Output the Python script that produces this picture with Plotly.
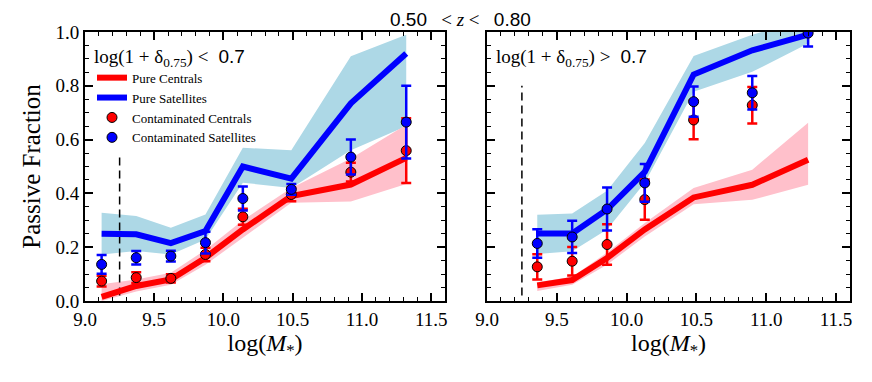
import plotly.graph_objects as go

# ---------------- data ----------------
mass_lo = [9.12, 9.37, 9.62, 9.87, 10.14, 10.49, 10.92, 11.32]
pure_cen_lo = [0.015, 0.056, 0.08, 0.161, 0.266, 0.39, 0.433, 0.532]
pure_cen_lo_hi = [0.062, 0.08, 0.105, 0.19, 0.30, 0.42, 0.53, 0.655]
pure_cen_lo_lo = [0.0, 0.035, 0.06, 0.135, 0.235, 0.365, 0.37, 0.435]
pure_sat_lo = [0.25, 0.248, 0.215, 0.26, 0.50, 0.455, 0.735, 0.92]
pure_sat_lo_hi = [0.328, 0.316, 0.272, 0.322, 0.57, 0.56, 0.91, 0.99]
pure_sat_lo_lo = [0.173, 0.186, 0.173, 0.229, 0.44, 0.42, 0.56, 0.65]
cont_cen_lo = [0.074, 0.087, 0.084, 0.173, 0.313, 0.396, 0.479, 0.559]
cont_cen_lo_err = [0.02, 0.02, 0.015, 0.025, 0.03, 0.025, 0.035, 0.12]
cont_sat_lo = [0.136, 0.161, 0.167, 0.217, 0.381, 0.415, 0.535, 0.665]
cont_sat_lo_err = [0.035, 0.025, 0.02, 0.04, 0.045, 0.02, 0.065, 0.135]

mass_hi = [9.36, 9.61, 9.86, 10.13, 10.48, 10.90, 11.30]
pure_cen_hi = [0.058, 0.078, 0.16, 0.266, 0.385, 0.432, 0.525]
pure_cen_hi_hi = [0.07, 0.09, 0.18, 0.29, 0.42, 0.488, 0.663]
pure_cen_hi_lo = [0.037, 0.06, 0.135, 0.24, 0.36, 0.376, 0.432]
pure_sat_hi = [0.251, 0.251, 0.34, 0.48, 0.842, 0.932, 0.99]
pure_sat_hi_hi = [0.321, 0.325, 0.41, 0.587, 0.911, 0.99, 1.05]
pure_sat_hi_lo = [0.175, 0.185, 0.266, 0.44, 0.778, 0.852, 0.957]
cont_cen_hi = [0.127, 0.148, 0.21, 0.377, 0.673, 0.728]
cont_cen_hi_err = [0.047, 0.053, 0.075, 0.075, 0.072, 0.068]
cont_sat_hi = [0.214, 0.238, 0.342, 0.439, 0.741, 0.774, 0.996]
cont_sat_hi_err = [0.053, 0.06, 0.08, 0.07, 0.056, 0.062, 0.05]

mass_limit = 9.25
dash_span_lo = [0.02, 0.55]
dash_span_hi = [0.02, 0.80]

x_ticks = [9.0, 9.5, 10.0, 10.5, 11.0, 11.5]
y_ticks = [0.0, 0.2, 0.4, 0.6, 0.8, 1.0]

SERIF = "Liberation Serif, DejaVu Serif, serif"
SANS = "Liberation Sans, Arial, sans-serif"

RED = "#ff0000"
BLUE = "#0000ff"
PINK = "#ffc0cb"
LBLUE = "#add8e6"

fig = go.Figure()


def band(x, lo, hi, color, xa, ya):
    fig.add_trace(go.Scatter(x=x, y=lo, mode="lines", line=dict(width=0, color=color),
                             showlegend=False, hoverinfo="skip", xaxis=xa, yaxis=ya))
    fig.add_trace(go.Scatter(x=x, y=hi, mode="lines", line=dict(width=0, color=color),
                             fill="tonexty", fillcolor=color, showlegend=False,
                             hoverinfo="skip", xaxis=xa, yaxis=ya))


def panel(xa, ya, mass, pc, pc_lo, pc_hi, ps, ps_lo, ps_hi, cc, cc_err, cs, cs_err, dash_span, legend):
    band(mass, ps_lo, ps_hi, LBLUE, xa, ya)
    band(mass, pc_lo, pc_hi, PINK, xa, ya)
    fig.add_trace(go.Scatter(x=[mass_limit, mass_limit], y=dash_span, mode="lines",
                             line=dict(color="black", width=1.5, dash="8px,5px"),
                             showlegend=False, hoverinfo="skip", xaxis=xa, yaxis=ya))
    fig.add_trace(go.Scatter(x=mass, y=pc, mode="lines", line=dict(color=RED, width=6),
                             name="Pure Centrals", showlegend=legend, xaxis=xa, yaxis=ya))
    fig.add_trace(go.Scatter(x=mass, y=ps, mode="lines", line=dict(color=BLUE, width=6),
                             name="Pure Satellites", showlegend=legend, xaxis=xa, yaxis=ya))
    fig.add_trace(go.Scatter(x=mass[:len(cc)], y=cc, mode="markers",
                             marker=dict(color=RED, size=10, line=dict(color="black", width=1)),
                             error_y=dict(type="data", array=cc_err, color=RED, thickness=2.5, width=5),
                             name="Contaminated Centrals", showlegend=legend, xaxis=xa, yaxis=ya))
    fig.add_trace(go.Scatter(x=mass[:len(cs)], y=cs, mode="markers",
                             marker=dict(color=BLUE, size=10, line=dict(color="black", width=1)),
                             error_y=dict(type="data", array=cs_err, color=BLUE, thickness=2.5, width=5),
                             name="Contaminated Satellites", showlegend=legend, xaxis=xa, yaxis=ya))


panel("x", "y", mass_lo, pure_cen_lo, pure_cen_lo_lo, pure_cen_lo_hi,
      pure_sat_lo, pure_sat_lo_lo, pure_sat_lo_hi,
      cont_cen_lo, cont_cen_lo_err, cont_sat_lo, cont_sat_lo_err, dash_span_lo, True)
panel("x2", "y2", mass_hi, pure_cen_hi, pure_cen_hi_lo, pure_cen_hi_hi,
      pure_sat_hi, pure_sat_hi_lo, pure_sat_hi_hi,
      cont_cen_hi, cont_cen_hi_err, cont_sat_hi, cont_sat_hi_err, dash_span_hi, False)

# the page body adds an 8px margin; size the figure to fit inside the window
W, H = 856, 366
ML, MR, MT, MB = 77, 14, 24, 73
pw = W - ML - MR
ph = H - MT - MB
d1 = [0, 360 / pw]
d2 = [(479 - ML) / pw, 1]

axis_common = dict(showline=True, linecolor="black", linewidth=2, mirror="ticks",
                   ticks="inside", ticklen=8, tickwidth=1.5, tickcolor="black",
                   showgrid=False, zeroline=False, automargin=False,
                   tickfont=dict(family=SERIF, size=19, color="black"))

xcommon = dict(axis_common, range=[9.0, 11.6], tickmode="array", tickvals=x_ticks,
               ticktext=[f"{v:.1f}" for v in x_ticks],
               minor=dict(dtick=0.1, tick0=9.0, ticks="inside", ticklen=4, tickwidth=1, tickcolor="black"),
               title=dict(text="log(<i>M</i><sub>*</sub>)", font=dict(family=SERIF, size=24, color="black"),
                          standoff=4))
ycommon = dict(axis_common, range=[0, 1.0], tickmode="array", tickvals=y_ticks,
               ticktext=[f"{v:.1f}" for v in y_ticks],
               minor=dict(dtick=0.05, tick0=0, ticks="inside", ticklen=4, tickwidth=1, tickcolor="black"))

title_txt = (f'<span style="font-family:{SANS}">0.50</span>'
             f'<span style="font-family:{SERIF}">&nbsp;&nbsp;&nbsp;&lt; <i>z</i> &lt;&nbsp;&nbsp;&nbsp;</span>'
             f'<span style="font-family:{SANS}">0.80</span>')

fig.update_layout(
    width=W, height=H, margin=dict(l=ML, r=MR, t=MT, b=MB),
    plot_bgcolor="white", paper_bgcolor="white",
    xaxis=dict(xcommon, domain=d1, anchor="y"),
    yaxis=dict(ycommon, domain=[0, 1], anchor="x",
               title=dict(text="Passive Fraction", font=dict(family=SERIF, size=25, color="black"),
                          standoff=8)),
    xaxis2=dict(xcommon, domain=d2, anchor="y2"),
    yaxis2=dict(ycommon, domain=[0, 1], anchor="x2", showticklabels=False),
    showlegend=True,
    legend=dict(x=7 / pw, y=1 - 6 / ph, xanchor="left", yanchor="top",
                bgcolor="rgba(255,255,255,0)", borderwidth=0, traceorder="normal",
                font=dict(family=SERIF, size=13, color="black"),
                tracegroupgap=0, itemwidth=30,
                title=dict(text=f'log(1 + δ<sub>0.75</sub>) &lt; <span style="font-family:{SANS}"> 0.7</span>',
                           font=dict(family=SERIF, size=19, color="black"))),
    annotations=[
        dict(text=title_txt, xref="paper", yref="paper", x=(d1[1] + d2[0]) / 2 - 6 / pw, y=1,
             yshift=13, xanchor="center", yanchor="middle", showarrow=False,
             font=dict(family=SANS, size=19, color="black")),
        dict(text=f'log(1 + δ<sub>0.75</sub>) &gt; <span style="font-family:{SANS}"> 0.7</span>',
             xref="x2 domain", yref="y2 domain", x=0.02, y=0.905, xanchor="left", yanchor="middle",
             showarrow=False, font=dict(family=SERIF, size=19, color="black")),
    ],
)

fig.write_html("out.html")
